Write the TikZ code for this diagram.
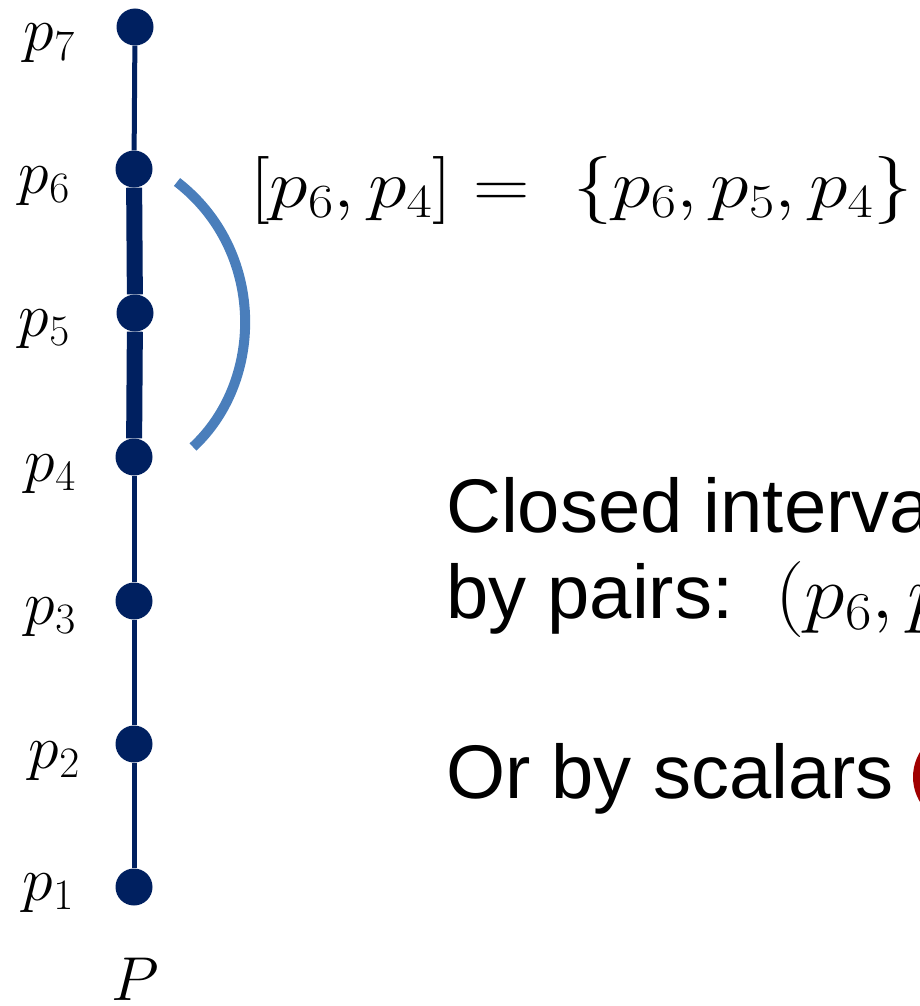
\RequirePackage{fix-cm}
\documentclass[tikz,border=0pt]{standalone}
\usepackage{amsmath}
\usepackage{fontspec}
\setmainfont{Liberation Sans}
\usetikzlibrary{arrows.meta, calc}

\definecolor{navy}{HTML}{002060}
\definecolor{arcblue}{HTML}{4A7EBB}
\definecolor{darkred}{HTML}{A00000}

\begin{document}
\begin{tikzpicture}[>=Stealth, x=1pt, y=-1pt]

    % Define styles
    \tikzset{
        dot/.style={circle, fill=navy, inner sep=0pt, minimum size=37pt},
        chain/.style={navy, line width=5pt},
        chainbold/.style={navy, line width=16pt},
        interval/.style={arcblue, line width=10pt},
        plabel/.style={anchor=base east, inner sep=0pt, font=\fontsize{62}{70}\selectfont},
        formula/.style={anchor=base west, inner sep=0pt, font=\fontsize{68}{76}\selectfont},
        bodytext/.style={anchor=base west, inner sep=0pt, font=\fontsize{76}{86}\selectfont},
        reddot/.style={circle, fill=darkred, inner sep=0pt, minimum size=96pt}
    }

    % 0. Frame
    \useasboundingbox (0,0) rectangle (920,1006);
    \clip (0,0) rectangle (920,1006);

    % 1. Points of the chain
    \node[dot] (p7) at (135,27) {};
    \node[dot] (p6) at (134,169) {};
    \node[dot] (p5) at (135,313) {};
    \node[dot] (p4) at (134,457) {};
    \node[dot] (p3) at (134,601) {};
    \node[dot] (p2) at (134,744) {};
    \node[dot] (p1) at (134,887) {};

    % 2. Links between points
    \draw[chain] (p7) -- (p6);
    \draw[chainbold] (p6) -- (p5);
    \draw[chainbold] (p5) -- (p4);
    \draw[chain] (p4) -- (p3);
    \draw[chain] (p3) -- (p2);
    \draw[chain] (p2) -- (p1);

    % 3. Labels on the left
    \node[plabel] (l7) at (75,51) {$p_7$};
    \node[plabel] (l6) at (70,193) {$p_6$};
    \node[plabel] (l5) at (70,336) {$p_5$};
    \node[plabel] (l4) at (76,481) {$p_4$};
    \node[plabel] (l3) at (76,624) {$p_3$};
    \node[plabel] (l2) at (80,768) {$p_2$};
    \node[plabel] (l1) at (74,900) {$p_1$};
    \node[plabel, anchor=base] (lP) at (135,1000) {$P$};

    % 4. Interval arc
    \coordinate (ArcTop) at (177,182);
    \coordinate (ArcBot) at (193,447);
    \draw[interval] (ArcTop) .. controls (265,250) and (265,380) .. (ArcBot);

    % 5. Interval as a set
    \node[formula] (IntSet) at (250,207) {\scalebox{1.15}[1]{$[p_6,p_4] = \ \{p_6,p_5,p_4\}$}};

    % 6. Text on the right
    \node[bodytext] (Closed) at (446,532) {Closed interval};
    \node[bodytext] (Pairs) at (446,618) {by pairs:\ \ \scalebox{1.08}[1]{$(p_6,p_4)$}};
    \node[bodytext] (Scalars) at (446,798) {Or by scalars};
    \node[reddot] (Scalar) at (961,777) {};

\end{tikzpicture}
\end{document}
